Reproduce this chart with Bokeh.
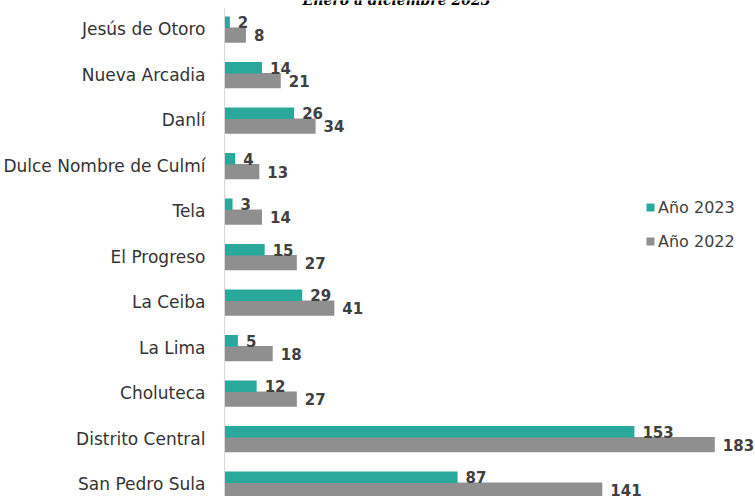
from bokeh.plotting import figure
from bokeh.models import ColumnDataSource, Range1d, FixedTicker, Legend, LegendItem, Label
from bokeh.transform import dodge
from bokeh.core.properties import value
from bokeh.embed import file_html
from bokeh.resources import INLINE

categories = ["Jesús de Otoro", "Nueva Arcadia", "Danlí", "Dulce Nombre de Culmí", "Tela",
              "El Progreso", "La Ceiba", "La Lima", "Choluteca", "Distrito Central", "San Pedro Sula"]
anio_2023 = [2, 14, 26, 4, 3, 15, 29, 5, 12, 153, 87]
anio_2022 = [8, 21, 34, 13, 14, 27, 41, 18, 27, 183, 141]
series_names = ["Año 2023", "Año 2022"]
title_text = "Enero a diciembre 2023"

idx = list(range(len(categories)))
src = ColumnDataSource(dict(
    idx=idx, cat=categories, v23=anio_2023, v22=anio_2022,
    l23=[str(v) for v in anio_2023], l22=[str(v) for v in anio_2022],
))

TEAL = "#2ba89c"
GRAY = "#8f8f8f"

p = figure(width=755, height=496, output_backend="svg", toolbar_location=None,
           x_range=Range1d(0, 198.2), y_range=Range1d(10.264, -0.637),
           x_axis_location=None,
           min_border_left=218, min_border_right=0, min_border_top=0, min_border_bottom=0,
           outline_line_color=None, margin=(0, 0, 0, 0))
p.xgrid.visible = False
p.ygrid.visible = False

ax = p.yaxis[0]
ax.ticker = FixedTicker(ticks=idx)
ax.major_label_overrides = {i: c for i, c in zip(idx, categories)}
ax.major_tick_line_color = None
ax.minor_tick_line_color = None
ax.axis_line_color = "#d9d9d9"
ax.major_label_standoff = 13
ax.major_label_text_font = "DejaVu Sans"
ax.major_label_text_font_size = "17px"
ax.major_label_text_color = "#333333"
ax.bounds = (-0.46, 10.264)

r22 = p.hbar(y=dodge("idx", 0.123), right="v22", left=0, height=0.336, source=src,
             fill_color=GRAY, line_color=None)
r23 = p.hbar(y=dodge("idx", -0.159), right="v23", left=0, height=0.253, source=src,
             fill_color=TEAL, line_color=None)

p.text(x="v23", y=dodge("idx", -0.159), text="l23", source=src, x_offset=8,
       text_baseline="middle", text_align="left", text_font=value("DejaVu Sans"),
       text_font_style="bold", text_font_size="15px", text_color="#404040")
p.text(x="v22", y=dodge("idx", 0.123), text="l22", source=src, x_offset=8,
       text_baseline="middle", text_align="left", text_font=value("DejaVu Sans"),
       text_font_style="bold", text_font_size="15px", text_color="#404040")

legend = Legend(items=[LegendItem(label=series_names[0], renderers=[r23]),
                       LegendItem(label=series_names[1], renderers=[r22])],
                location=(421, 240), border_line_color=None, background_fill_alpha=0,
                padding=0, margin=0, spacing=4, glyph_width=10, glyph_height=10,
                label_standoff=3, label_height=30, label_text_font="DejaVu Sans",
                label_text_font_size="16px", label_text_color="#404040")
p.add_layout(legend)

p.add_layout(Label(x=172, y=497, x_units="screen", y_units="screen", text=title_text,
                   text_align="center", text_baseline="alphabetic", text_font="DejaVu Serif",
                   text_font_style="bold italic", text_font_size="14px", text_color="#000000"))

open("out.html", "w").write(file_html(p, INLINE))
